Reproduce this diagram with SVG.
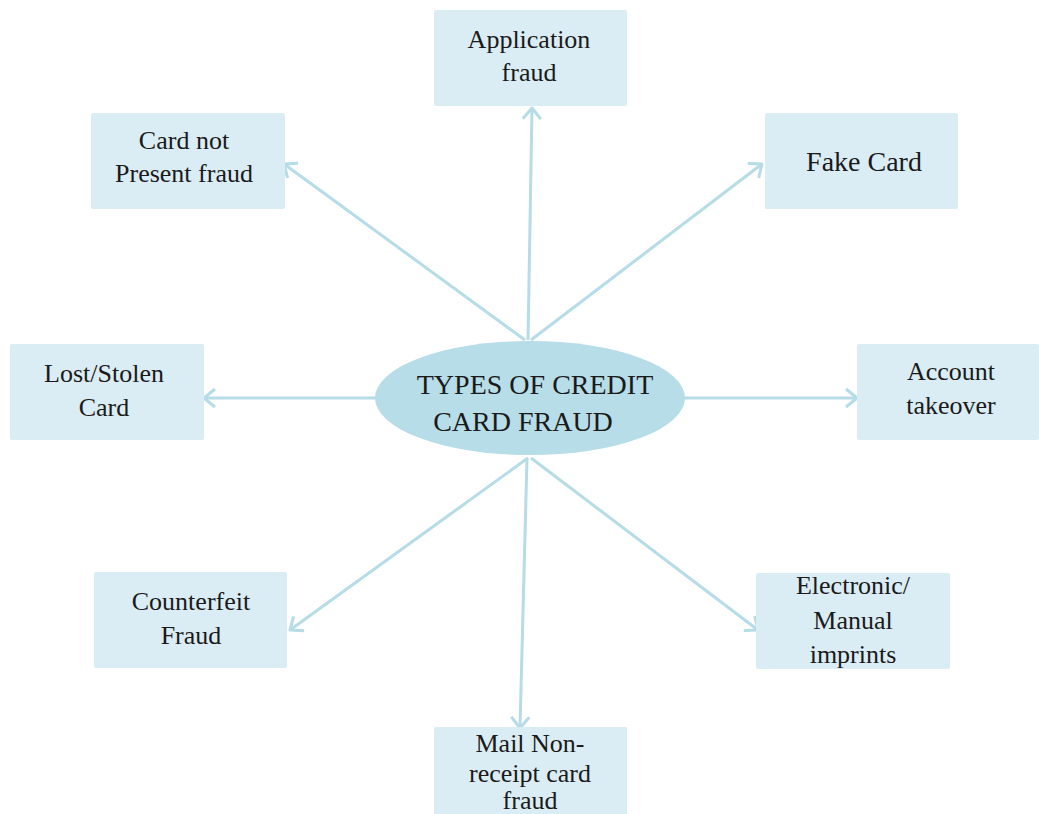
<svg xmlns="http://www.w3.org/2000/svg" width="1039" height="814" viewBox="0 0 1039 814">
<style>
.box{fill:#daedf4;}
.t{font-family:'Liberation Serif','Times New Roman',Times,'DejaVu Serif',serif;font-size:26px;fill:#1a1a1a;text-anchor:middle;}
.e{font-size:28px;}
.c{stroke:#b5dce7;stroke-width:3;fill:none;marker-end:url(#ah);}
</style>
<defs>
<marker id="ah" markerUnits="userSpaceOnUse" markerWidth="24" markerHeight="24" viewBox="-12 -12 24 24" refX="0" refY="0" orient="auto">
<path d="M-11,-9 L0,0 L-11,9" fill="none" stroke="#b5dce7" stroke-width="3" stroke-linejoin="round"/>
</marker>
</defs>
<rect width="1039" height="814" fill="#fff"/>
<g id="connectors">
<line class="c" x1="528" y1="340" x2="532" y2="108"/>
<line class="c" x1="525" y1="340" x2="284" y2="164"/>
<line class="c" x1="531" y1="340" x2="762" y2="164"/>
<line class="c" x1="376" y1="398" x2="204" y2="398"/>
<line class="c" x1="684" y1="398" x2="857" y2="398"/>
<line class="c" x1="528" y1="458" x2="290" y2="630"/>
<line class="c" x1="531" y1="458" x2="758" y2="630"/>
<line class="c" x1="527" y1="458" x2="520" y2="728"/>
</g>
<g id="center">
<ellipse cx="530" cy="398" rx="155" ry="57" fill="#b7dde8"/>
<text class="t e" x="535" y="394">TYPES OF CREDIT</text>
<text class="t e" x="523" y="431">CARD FRAUD</text>
</g>
<g id="application">
<rect class="box" x="434" y="10" width="193" height="96" rx="2"/>
<text class="t" x="529" y="48">Application</text>
<text class="t" x="529" y="81">fraud</text>
</g>
<g id="cnp">
<rect class="box" x="91" y="113" width="194" height="96" rx="2"/>
<text class="t" x="184" y="149">Card not</text>
<text class="t" x="184" y="182">Present fraud</text>
</g>
<g id="fake">
<rect class="box" x="765" y="113" width="193" height="96" rx="2"/>
<text class="t e" x="864" y="171">Fake Card</text>
</g>
<g id="lost">
<rect class="box" x="10" y="344" width="194" height="96" rx="2"/>
<text class="t" x="104" y="382">Lost/Stolen</text>
<text class="t" x="104" y="416">Card</text>
</g>
<g id="account">
<rect class="box" x="857" y="344" width="182" height="96" rx="2"/>
<text class="t" x="951" y="380">Account</text>
<text class="t" x="951" y="414">takeover</text>
</g>
<g id="counterfeit">
<rect class="box" x="94" y="572" width="193" height="96" rx="2"/>
<text class="t" x="191" y="610">Counterfeit</text>
<text class="t" x="191" y="644">Fraud</text>
</g>
<g id="electronic">
<rect class="box" x="756" y="573" width="194" height="96" rx="2"/>
<text class="t" x="853" y="594">Electronic/</text>
<text class="t" x="853" y="629">Manual</text>
<text class="t" x="853" y="663">imprints</text>
</g>
<g id="mail">
<rect class="box" x="434" y="727" width="193" height="90" rx="2"/>
<text class="t" x="530" y="752">Mail Non-</text>
<text class="t" x="530" y="782">receipt card</text>
<text class="t" x="530" y="809">fraud</text>
</g>
</svg>
